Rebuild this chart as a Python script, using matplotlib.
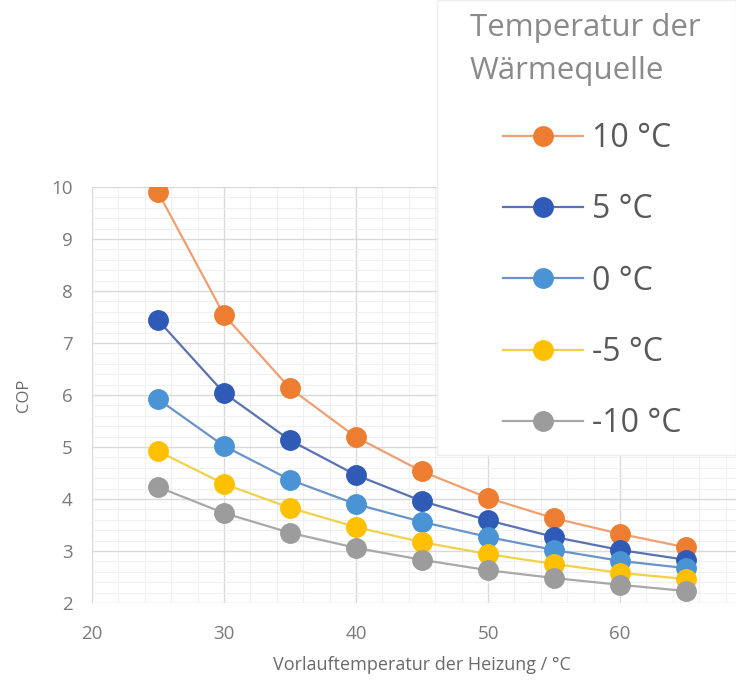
import matplotlib.pyplot as plt
from matplotlib.patches import Rectangle
from matplotlib.ticker import MultipleLocator

plt.rcParams['font.family'] = ['Open Sans', 'DejaVu Sans']

# Vorlauftemperatur der Heizung / °C
vorlauf = [25, 30, 35, 40, 45, 50, 55, 60, 65]

# COP je Temperatur der Waermequelle
cop_p10 = [9.90, 7.54, 6.13, 5.19, 4.53, 4.02, 3.63, 3.33, 3.07]
cop_p5 = [7.44, 6.04, 5.13, 4.46, 3.96, 3.59, 3.27, 3.02, 2.83]
cop_0 = [5.92, 5.02, 4.37, 3.90, 3.56, 3.27, 3.02, 2.81, 2.67]
cop_m5 = [4.92, 4.29, 3.83, 3.46, 3.17, 2.94, 2.75, 2.58, 2.46]
cop_m10 = [4.23, 3.73, 3.35, 3.06, 2.83, 2.63, 2.48, 2.35, 2.23]

labels = ['10 °C', '5 °C', '0 °C', '-5 °C', '-10 °C']
series = [cop_p10, cop_p5, cop_0, cop_m5, cop_m10]
line_colors = ['#f0a070', '#5a72b0', '#6a94c8', '#f2d048', '#a8a8a8']
marker_colors = ['#ed7d31', '#2f5bb7', '#4a94d6', '#ffc000', '#9c9c9c']
xticks = [20, 30, 40, 50, 60]

fig = plt.figure(figsize=(7.36, 6.84), dpi=100)
W, H = 736.0, 684.0
ax = fig.add_axes([92 / W, (H - 603) / H, 660 / W, 416 / H])

for ys, lc, mc, lab in zip(series, line_colors, marker_colors, labels):
    ax.plot(vorlauf, ys, color=lc, lw=1.6, marker='o', ms=14,
            markerfacecolor=mc, markeredgecolor=mc, label=lab, zorder=3)

ax.set_xlim(20, 70)
ax.set_ylim(2, 10)
ax.set_xticks(xticks)
ax.xaxis.set_minor_locator(MultipleLocator(2))
ax.yaxis.set_major_locator(MultipleLocator(1))
ax.yaxis.set_minor_locator(MultipleLocator(0.2))
ax.grid(which='major', color='#d9d9d9', lw=1)
ax.grid(which='minor', color='#f0f0f0', lw=0.8)
ax.set_axisbelow(True)
for s in ax.spines.values():
    s.set_visible(False)
ax.tick_params(which='both', length=0, labelsize=13.5, labelcolor='#7a7a7a')
ax.tick_params(axis='x', pad=16)
ax.tick_params(axis='y', pad=14)

ax.set_ylabel('COP', fontsize=12, color='#6a6a6a', labelpad=14)
ax.set_xlabel('Vorlauftemperatur der Heizung / °C', fontsize=13,
              color='#6a6a6a', labelpad=9)

# weisser Legendenbereich oben rechts
fig.patches.append(Rectangle((437 / W, (H - 455) / H), 1 - 437 / W, 455 / H,
                             transform=fig.transFigure, facecolor='white',
                             edgecolor='#eeeeee', lw=1, zorder=5))

fig.text(470 / W, 1 - 13 / H, 'Temperatur der\nWärmequelle', fontsize=22.5,
         color='#8a8a8a', va='top', ha='left', linespacing=1.55, zorder=6)

leg = fig.legend(loc='upper left', bbox_to_anchor=(503 / W, 1 - 122 / H),
                 frameon=False, fontsize=23, labelcolor='#595959',
                 handlelength=2.5, handletextpad=0.3, labelspacing=1.2,
                 borderpad=0, borderaxespad=0, markerscale=1.0)
leg.set_zorder(7)

fig.savefig('out.png', dpi=100)
